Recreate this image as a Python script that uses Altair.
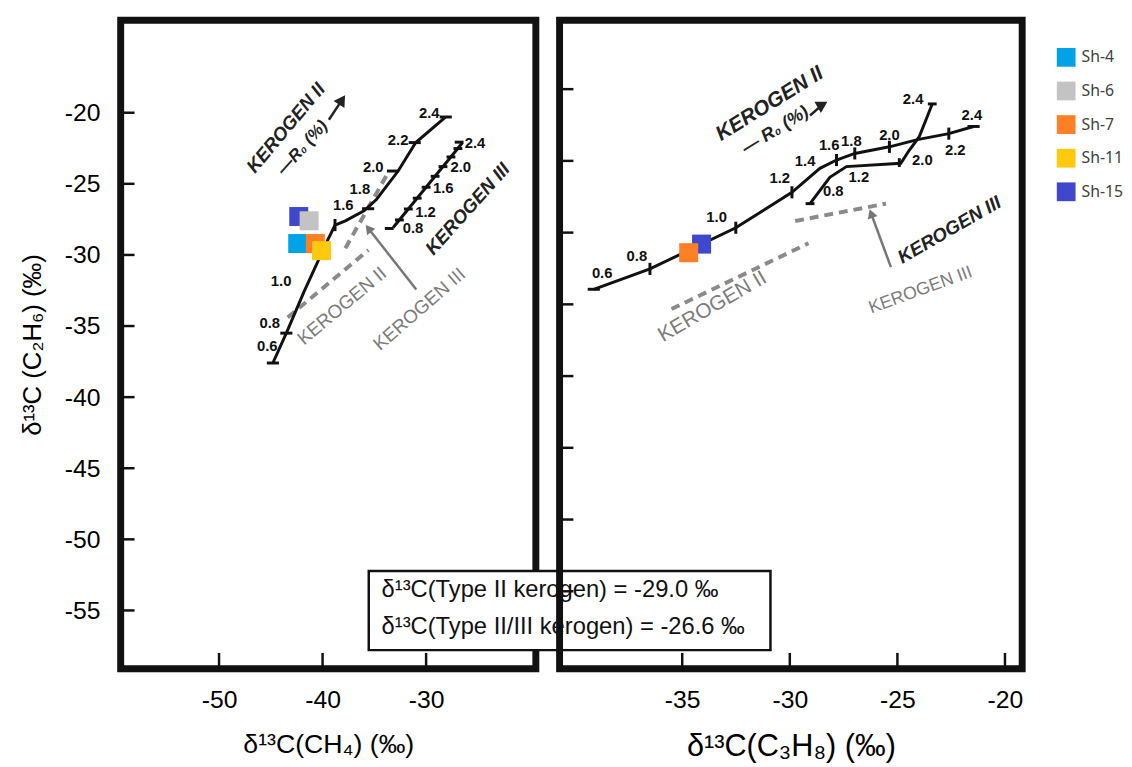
import altair as alt
import pandas as pd

# ---------------- data ----------------
samples = ["Sh-4", "Sh-6", "Sh-7", "Sh-11", "Sh-15"]
sample_colors = ["#00A2E8", "#C3C3C3", "#FF7F27", "#FFC90E", "#3F48CC"]

# left panel: d13C(CH4) vs d13C(C2H6) ; listed in drawing order
left_sample = ["Sh-15", "Sh-6", "Sh-4", "Sh-7", "Sh-11"]
left_ch4 = [-42.3, -41.3, -42.4, -40.7, -40.1]
left_c2h6 = [-27.3, -27.6, -29.2, -29.2, -29.7]

# right panel: d13C(C3H8) vs d13C(C2H6)
right_sample = ["Sh-15", "Sh-7"]
right_c3h8 = [-34.1, -34.7]
right_c2h6 = [-30.8, -31.4]

# left panel model curves
L_k2_x = [-44.8, -43.5, -41.8, -39.6, -38.8, -37.8, -36.0, -34.8, -32.7, -31.0, -28.1]
L_k2_y = [-37.6, -35.5, -32.6, -29.1, -27.9, -27.6, -26.9, -26.1, -24.1, -22.1, -20.3]
L_k2_tick_x = [-44.8, -43.5, -38.8, -35.6, -33.2, -31.1, -28.1]
L_k2_tick_y = [-37.6, -35.5, -27.9, -26.75, -24.1, -22.1, -20.3]
L_k2_tick_a = [0, 0, 90, 0, 0, 0, 0]
L_k2_lab = ["0.6", "0.8", "1.0", "1.6", "1.8", "2.0", "2.2", "2.4"]
L_k2_lab_x = [-45.35, -45.1, -44.0, -38.0, -36.4, -35.1, -32.7, -29.7]
L_k2_lab_y = [-36.4, -34.8, -31.85, -26.5, -25.4, -23.85, -21.9, -20.0]

L_k3_x = [-33.18, -26.49]
L_k3_y = [-28.07, -22.11]
L_k3_tick_x = [-33.56, -32.58, -31.72, -30.86, -30.0, -29.13, -28.37, -27.6, -26.93, -26.81]
L_k3_tick_y = [-28.14, -27.54, -26.77, -26.01, -25.24, -24.47, -23.79, -23.11, -22.52, -22.07]
L_k3_lab = ["0.8", "1.2", "1.6", "2.0", "2.4"]
L_k3_lab_x = [-31.27, -30.06, -28.34, -26.65, -25.28]
L_k3_lab_y = [-28.14, -26.98, -25.31, -23.85, -22.11]

L_dash_a_x = [-43.37, -35.57]
L_dash_a_y = [-34.40, -29.65]
L_dash_b_x = [-37.80, -33.66]
L_dash_b_y = [-29.53, -24.20]

# right panel model curves
R_k2_x = [-39.11, -36.5, -32.51, -29.9, -28.6, -27.83, -26.98, -25.37, -24.07, -22.61, -21.46]
R_k2_y = [-33.95, -32.53, -29.66, -27.19, -25.52, -24.94, -24.48, -24.02, -23.52, -23.1, -22.6]
R_k2_tick_x = [-39.11, -36.5, -32.51, -29.9, -27.83, -26.98, -25.37, -22.61, -21.46]
R_k2_tick_y = [-33.95, -32.53, -29.66, -27.19, -24.94, -24.48, -24.02, -23.1, -22.6]
R_k2_tick_a = [0, 90, 90, 90, 90, 90, 90, 90, 0]
R_k2_lab = ["0.6", "0.8", "1.0", "1.2", "1.4", "1.6", "1.8", "2.0", "2.2", "2.4"]
R_k2_lab_x = [-38.72, -37.11, -33.4, -30.47, -29.29, -28.17, -27.14, -25.37, -22.31, -21.54]
R_k2_lab_y = [-32.81, -31.61, -28.9, -26.21, -24.99, -23.91, -23.61, -23.22, -24.26, -21.84]

R_k3_x = [-29.06, -28.14, -27.37, -24.84, -24.45, -23.99, -23.38]
R_k3_y = [-27.98, -26.14, -25.4, -25.17, -24.26, -23.33, -21.03]
R_k3_tick_x = [-29.06, -24.91, -23.38]
R_k3_tick_y = [-27.98, -25.12, -21.03]
R_k3_tick_a = [0, 90, 0]
R_k3_lab = ["0.8", "1.2", "2.0", "2.4"]
R_k3_lab_x = [-27.98, -26.79, -23.84, -24.27]
R_k3_lab_y = [-27.12, -26.14, -24.94, -20.69]

R_dash_a_x = [-35.5, -29.13]
R_dash_a_y = [-35.33, -30.74]
R_dash_b_x = [-29.75, -25.53]
R_dash_b_y = [-29.19, -27.98]

# annotation texts
L_black_txt = ["KEROGEN II", "—R₀ (%)", "KEROGEN III"]
L_black_x = [-43.54, -41.94, -25.98]
L_black_y = [-21.07, -22.46, -26.77]
L_black_a = [310, 312, 312]
L_gray_txt = ["KEROGEN II", "KEROGEN III"]
L_gray_x = [-38.12, -30.64]
L_gray_y = [-33.59, -33.82]
L_gray_a = [320, 319]

R_black_txt = ["KEROGEN II", "— R₀ (%)", "KEROGEN III"]
R_black_x = [-30.93, -30.67, -22.58]
R_black_y = [-21.03, -22.88, -29.81]
R_black_a = [328, 328, 330]
R_gray_txt = ["KEROGEN II", "KEROGEN III"]
R_gray_x = [-33.59, -23.92]
R_gray_y = [-35.17, -34.02]
R_gray_a = [330, 340]

# arrows: shaft start -> head
L_arrows = {"ro": ([-39.39, -38.12], [-20.49, -19.10], "#222222", 33),
            "k3": ([-30.95, -35.57], [-32.43, -28.14], "#777777", 322)}
R_arrows = {"ro": ([-29.06, -28.48], [-21.84, -21.08], "#222222", 60),
            "k3": ([-25.30, -26.22], [-32.41, -28.67], "#777777", 340)}

box_lines = ["δ¹³C(Type II kerogen) = -29.0 ‰", "δ¹³C(Type II/III kerogen) = -26.6 ‰"]
box_x = [-35.54, 3.26]
box_y = [-52.23, -57.79]
box_text_x = -34.3
box_text_y = [-53.55, -56.19]

L_xticks = [-50, -40, -30]
L_yticks = [-20, -25, -30, -35, -40, -45, -50, -55]
R_xticks = [-35, -30, -25, -20]
R_yticks = [-20, -25, -30, -35, -40, -45, -50, -55]

# ---------------- layout / style ----------------
LW, LH = 420, 656
RW, RH = 468, 656
L_XDOM = [-59.5, -19.4]
L_YDOM = [-59.1, -13.5]
R_XDOM = [-40.7, -19.2]
R_YDOM = [-60.4, -15.2]
FONT = "Liberation Sans"
GRAY = "#8a8a8a"
LABEL_EXPR = "'' + datum.value"


def axis(values, title, tsize):
    return alt.Axis(values=values, title=title, domain=False, ticks=False, tickSize=0,
                    grid=False, labelPadding=19, titlePadding=20, labelFontSize=25,
                    titleFontSize=tsize, labelFont=FONT, titleFont=FONT,
                    titleFontWeight="normal", labelColor="black", titleColor="black",
                    labelExpr=LABEL_EXPR)


def line_df(xs, ys):
    return pd.DataFrame({"x": xs, "y": ys, "i": list(range(len(xs)))})


legend = alt.Legend(orient="none", legendX=947, legendY=28, title=None, symbolType="square",
                    symbolSize=360, symbolStrokeWidth=0, symbolOpacity=1, labelFontSize=16,
                    labelFont="Noto Sans", labelColor="#404040", rowPadding=15, labelOffset=6,
                    padding=0)
color = alt.Color("sample:N", scale=alt.Scale(domain=samples, range=sample_colors), legend=legend)


def build(xdom, ydom, xaxis, yaxis, W, H, k2, k2t, k2l, k3, k3t, k3l, dashes,
          black_t, gray_t, arrows, pts, xticks, yticks, black_size, gray_size, extra=None):
    X = alt.X("x:Q", scale=alt.Scale(domain=xdom, nice=False, zero=False), axis=xaxis)
    Y = alt.Y("y:Q", scale=alt.Scale(domain=ydom, nice=False, zero=False), axis=yaxis)
    layers = []
    for dx, dy in dashes:
        layers.append(alt.Chart(line_df(dx, dy)).mark_line(
            color=GRAY, strokeWidth=4, strokeDash=[9, 6]).encode(x=X, y=Y, order="i:Q"))
    for cx, cy in (k2, k3):
        layers.append(alt.Chart(line_df(cx, cy)).mark_line(
            color="#111111", strokeWidth=3).encode(x=X, y=Y, order="i:Q"))
    for tx, ty, ta, sz in (k2t + (150,), k3t + (80,)):
        layers.append(alt.Chart(pd.DataFrame({"x": tx, "y": ty, "a": ta})).mark_point(
            shape="stroke", filled=False, color="#111111", strokeWidth=3, size=sz, opacity=1
        ).encode(x=X, y=Y, angle=alt.Angle("a:Q", scale=None)))
    for lt, lx, ly in (k2l, k3l):
        layers.append(alt.Chart(pd.DataFrame({"x": lx, "y": ly, "t": lt})).mark_text(
            font=FONT, fontSize=15, fontWeight="bold", color="#111111"
        ).encode(x=X, y=Y, text="t:N"))
    for name, (ax, ay, col, ang) in arrows.items():
        layers.append(alt.Chart(line_df(ax, ay)).mark_line(color=col, strokeWidth=2.5).encode(
            x=X, y=Y, order="i:Q"))
        layers.append(alt.Chart(pd.DataFrame({"x": [ax[-1]], "y": [ay[-1]], "a": [ang]})).mark_point(
            shape="triangle-up", filled=True, color=col, size=170 if col == "#222222" else 110,
            opacity=1).encode(x=X, y=Y, angle=alt.Angle("a:Q", scale=None)))
    tt, tx, ty, ta = black_t
    layers.append(alt.Chart(pd.DataFrame({"x": tx, "y": ty, "t": tt, "a": ta, "s": black_size})).mark_text(
        font=FONT, fontWeight="bold", fontStyle="italic", color="#222222", align="center",
        baseline="middle").encode(x=X, y=Y, text="t:N", angle=alt.Angle("a:Q", scale=None),
                                  size=alt.Size("s:Q", scale=None)))
    tt, tx, ty, ta = gray_t
    layers.append(alt.Chart(pd.DataFrame({"x": tx, "y": ty, "t": tt, "a": ta, "s": gray_size})).mark_text(
        font=FONT, color="#7c7c7c", align="center", baseline="middle").encode(
        x=X, y=Y, text="t:N", angle=alt.Angle("a:Q", scale=None), size=alt.Size("s:Q", scale=None)))
    # inward frame ticks
    layers.append(alt.Chart(pd.DataFrame({"x": xticks})).mark_rule(
        color="#111111", strokeWidth=2.5).encode(x=X, y=alt.value(H), y2=alt.value(H - 16)))
    layers.append(alt.Chart(pd.DataFrame({"y": yticks})).mark_rule(
        color="#111111", strokeWidth=2.5).encode(y=Y, x=alt.value(0), x2=alt.value(14)))
    # samples
    ps, px, py = pts
    layers.append(alt.Chart(pd.DataFrame({"x": px, "y": py, "sample": ps})).mark_point(
        shape="square", filled=True, size=370, opacity=1, strokeWidth=0).encode(
        x=X, y=Y, color=color))
    if extra is not None:
        layers.extend(extra(X, Y))
    return alt.layer(*layers).properties(width=W, height=H)


def box_layers(X, Y):
    rect = alt.Chart(pd.DataFrame({"x": [box_x[0]], "x2": [box_x[1]], "y": [box_y[0]], "y2": [box_y[1]]})).mark_rect(
        fill="white", stroke="#111111", strokeWidth=2.5).encode(x=X, x2="x2:Q", y=Y, y2="y2:Q")
    txt = alt.Chart(pd.DataFrame({"x": [box_text_x] * 2, "y": box_text_y, "t": box_lines})).mark_text(
        font=FONT, fontSize=24, align="left", baseline="middle", color="#111111").encode(
        x=X, y=Y, text="t:N")
    return [rect, txt]


left = build(
    L_XDOM, L_YDOM,
    axis(L_xticks, "δ¹³C(CH₄) (‰)", 27),
    alt.Axis(values=L_yticks, title="δ¹³C (C₂H₆) (‰)", domain=False, ticks=False, tickSize=0,
             grid=False, labelPadding=21, titlePadding=19, labelFontSize=25, titleFontSize=26,
             labelFont=FONT, titleFont=FONT, titleFontWeight="normal", labelColor="black",
             titleColor="black", labelExpr=LABEL_EXPR),
    LW, LH,
    (L_k2_x, L_k2_y), (L_k2_tick_x, L_k2_tick_y, L_k2_tick_a), (L_k2_lab, L_k2_lab_x, L_k2_lab_y),
    (L_k3_x, L_k3_y), (L_k3_tick_x, L_k3_tick_y, [0] * len(L_k3_tick_x)), (L_k3_lab, L_k3_lab_x, L_k3_lab_y),
    [(L_dash_a_x, L_dash_a_y), (L_dash_b_x, L_dash_b_y)],
    (L_black_txt, L_black_x, L_black_y, L_black_a),
    (L_gray_txt, L_gray_x, L_gray_y, L_gray_a),
    L_arrows, (left_sample, left_ch4, left_c2h6), L_xticks, L_yticks,
    [19, 17, 19], [19, 19], extra=box_layers)

right = build(
    R_XDOM, R_YDOM,
    axis(R_xticks, "δ¹³C(C₃H₈) (‰)", 31),
    None,
    RW, RH,
    (R_k2_x, R_k2_y), (R_k2_tick_x, R_k2_tick_y, R_k2_tick_a), (R_k2_lab, R_k2_lab_x, R_k2_lab_y),
    (R_k3_x, R_k3_y), (R_k3_tick_x, R_k3_tick_y, R_k3_tick_a), (R_k3_lab, R_k3_lab_x, R_k3_lab_y),
    [(R_dash_a_x, R_dash_a_y), (R_dash_b_x, R_dash_b_y)],
    (R_black_txt, R_black_x, R_black_y, R_black_a),
    (R_gray_txt, R_gray_x, R_gray_y, R_gray_a),
    R_arrows, (right_sample, right_c3h8, right_c2h6), R_xticks, R_yticks,
    [21, 18, 19], [21, 18])

chart = alt.hconcat(left, right, spacing=24, bounds="flush").properties(
    padding={"left": 8, "top": 4, "right": 0, "bottom": 0}
).configure(background="white").configure_view(stroke="#111111", strokeWidth=7)

chart.save("out.html", embed_options={"renderer": "svg", "actions": False})
